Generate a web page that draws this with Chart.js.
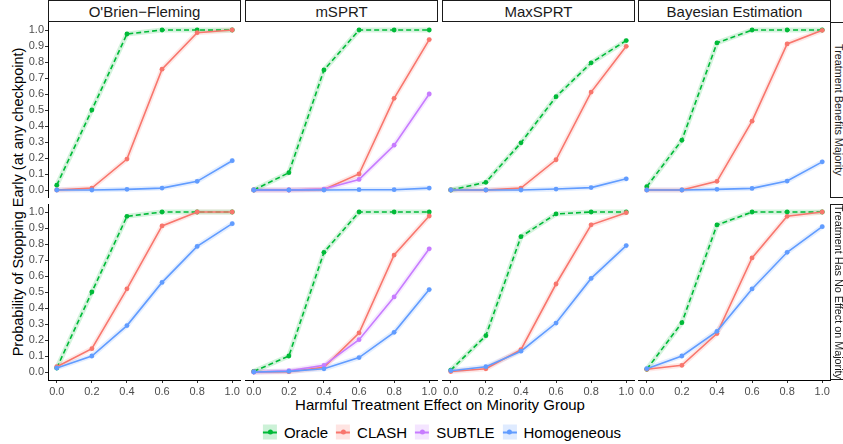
<!DOCTYPE html>
<html>
<head>
<meta charset="utf-8">
<script src="https://cdn.jsdelivr.net/npm/chart.js@4"></script>
<style>
html, body { margin: 0; padding: 0; background: #ffffff; }
body { width: 843px; height: 444px; position: relative; overflow: hidden; font-family: "Liberation Sans", Arial, sans-serif; color: #000; }
canvas { position: absolute; }
.strip { position: absolute; box-sizing: border-box; border: 1px solid #1a1a1a; background: #fff; color: #1a1a1a;
  display: flex; align-items: center; justify-content: center; font-size: 15px; white-space: nowrap; }
.rstrip { position: absolute; box-sizing: border-box; border: 1px solid #1a1a1a; background: #fff; color: #1a1a1a;
  display: flex; align-items: center; justify-content: center; font-size: 10.8px; white-space: nowrap; overflow: hidden; }
.rstrip span { writing-mode: vertical-rl; }
#ytitle { position: absolute; left: 18px; top: 202px; transform: translate(-50%, -50%) rotate(-90deg); font-size: 14.5px; white-space: nowrap; }
#xtitle { position: absolute; left: 440px; top: 404px; transform: translate(-50%, -50%); font-size: 15px; white-space: nowrap; }
#legend { position: absolute; left: 442px; top: 432px; transform: translate(-50%, -50%); display: flex; align-items: center; font-size: 15px; white-space: nowrap; }
.litem { display: flex; align-items: center; margin: 0 4px; }
.key { position: relative; width: 14px; height: 15px; margin-right: 7px; }
.kline { position: absolute; left: 0; right: 0; top: 7px; height: 1.6px; }
.kdot { position: absolute; left: 4.5px; top: 5px; width: 5px; height: 5px; border-radius: 50%; }
</style>
</head>
<body>
<div id="ytitle">Probability of Stopping Early (at any checkpoint)</div>
<div id="xtitle">Harmful Treatment Effect on Minority Group</div>
<div id="legend"></div>
<script>
// ---------- data ----------
const xValues = [0.0, 0.2, 0.4, 0.6, 0.8, 1.0];
const xTickValues = [0.0, 0.2, 0.4, 0.6, 0.8, 1.0];
const yTickValues = [0.0, 0.1, 0.2, 0.3, 0.4, 0.5, 0.6, 0.7, 0.8, 0.9, 1.0];
const methodNames = ["O'Brien\u2212Fleming", "mSPRT", "MaxSPRT", "Bayesian Estimation"];
const scenarioNames = ["Treatment Benefits Majority", "Treatment Has No Effect on Majority"];
const seriesNames = ["Oracle", "CLASH", "SUBTLE", "Homogeneous"];
const seriesColors = ["#00BA38", "#F8766D", "#C77CFF", "#619CFF"];

// one row per method (O'Brien-Fleming, mSPRT, MaxSPRT, Bayesian Estimation)
const oracleBenefit = [
  [0.03, 0.50, 0.975, 1.0, 1.0, 1.0],
  [0.0, 0.108, 0.75, 1.0, 1.0, 1.0],
  [0.0, 0.048, 0.295, 0.583, 0.795, 0.934],
  [0.021, 0.311, 0.919, 1.0, 1.0, 1.0]
];
const clashBenefit = [
  [0.0, 0.012, 0.193, 0.755, 0.983, 1.0],
  [0.0, 0.0, 0.004, 0.10, 0.573, 0.94],
  [0.0, 0.0, 0.012, 0.189, 0.612, 0.898],
  [0.0, 0.0, 0.054, 0.43, 0.913, 0.998]
];
const subtleBenefit = [
  null,
  [0.0, 0.0, 0.006, 0.066, 0.28, 0.60],
  null,
  null
];
const homogBenefit = [
  [0.0, 0.0, 0.004, 0.012, 0.054, 0.183],
  [0.0, 0.0, 0.0, 0.002, 0.002, 0.012],
  [0.0, 0.0, 0.0, 0.006, 0.015, 0.07],
  [0.0, 0.0, 0.004, 0.01, 0.056, 0.176]
];
const oracleNoEffect = [
  [0.025, 0.50, 0.973, 1.0, 1.0, 1.0],
  [0.004, 0.10, 0.748, 1.0, 1.0, 1.0],
  [0.012, 0.227, 0.846, 0.988, 1.0, 1.0],
  [0.017, 0.308, 0.919, 1.0, 1.0, 1.0]
];
const clashNoEffect = [
  [0.033, 0.146, 0.52, 0.913, 1.0, 1.0],
  [0.0, 0.002, 0.03, 0.244, 0.731, 0.975],
  [0.003, 0.02, 0.14, 0.55, 0.92, 0.996],
  [0.017, 0.042, 0.24, 0.713, 0.973, 1.0]
];
const subtleNoEffect = [
  null,
  [0.0, 0.008, 0.042, 0.202, 0.469, 0.77],
  null,
  null
];
const homogNoEffect = [
  [0.025, 0.10, 0.29, 0.56, 0.785, 0.927],
  [0.0, 0.004, 0.02, 0.09, 0.248, 0.515],
  [0.008, 0.033, 0.13, 0.306, 0.585, 0.79],
  [0.021, 0.10, 0.254, 0.519, 0.748, 0.908]
];

// ---------- layout ----------
const panelLefts = [48, 245, 442, 638];
const panelTops = [22, 204];
const panelW = 193, panelH = 176;
const yAxisW = 24, xAxisH = 22;

function rgba(hex, a) {
  const n = parseInt(hex.slice(1), 16);
  return `rgba(${(n >> 16) & 255},${(n >> 8) & 255},${n & 255},${a})`;
}

const rowSeries = [
  [oracleBenefit, clashBenefit, subtleBenefit, homogBenefit],
  [oracleNoEffect, clashNoEffect, subtleNoEffect, homogNoEffect]
];

function makePanel(r, c) {
  const showY = c === 0, showX = r === 1;
  const left = panelLefts[c] - (showY ? yAxisW : 0);
  const top = panelTops[r];
  const w = panelW + (showY ? yAxisW : 0);
  const h = panelH + (showX ? xAxisH : 0);
  const canvas = document.createElement('canvas');
  canvas.width = w; canvas.height = h;
  canvas.style.left = left + 'px'; canvas.style.top = top + 'px';
  canvas.style.width = w + 'px'; canvas.style.height = h + 'px';
  document.body.appendChild(canvas);

  const datasets = [];
  rowSeries[r].forEach((arr, k) => {
    const vals = arr[c];
    if (!vals) return;
    const pts = xValues.map((x, i) => ({ x: x, y: vals[i] }));
    const col = seriesColors[k];
    datasets.push({
      label: seriesNames[k] + ' band', data: pts, borderColor: rgba(col, 0.17), borderWidth: 5,
      pointRadius: 0, tension: 0, order: 100 + k, borderCapStyle: 'round', borderJoinStyle: 'round'
    });
    datasets.push({
      label: seriesNames[k], data: pts, borderColor: col, backgroundColor: col, borderWidth: 1.6,
      borderDash: k === 0 ? [5, 3] : [], pointRadius: 2.4, pointBackgroundColor: col,
      pointBorderWidth: 0, tension: 0, order: 10 - k
    });
  });

  const tickFont = { size: 11, family: "'Liberation Sans', Arial, sans-serif" };
  new Chart(canvas, {
    type: 'line',
    data: { datasets },
    options: {
      responsive: false, animation: false, devicePixelRatio: 1,
      layout: { padding: 0, autoPadding: false },
      plugins: { legend: { display: false }, tooltip: { enabled: false } },
      events: [],
      scales: {
        x: {
          type: 'linear', min: -0.05, max: 1.05, display: showX,
          afterBuildTicks: s => { s.ticks = xTickValues.map(v => ({ value: v })); },
          afterFit: s => { s.height = showX ? xAxisH : 0; s.paddingLeft = 0; s.paddingRight = 0; },
          grid: { display: true, drawOnChartArea: false, drawTicks: true, tickLength: 3, color: '#333333' },
          border: { display: true, color: '#000000', width: 1 },
          ticks: { color: '#4D4D4D', font: tickFont, padding: 2, maxRotation: 0, autoSkip: false,
                   callback: v => Number(v).toFixed(1) }
        },
        y: {
          type: 'linear', min: -0.05, max: 1.05, display: showY,
          afterBuildTicks: s => { s.ticks = yTickValues.map(v => ({ value: v })); },
          afterFit: s => { s.width = showY ? yAxisW : 0; s.paddingTop = 0; s.paddingBottom = 0; },
          grid: { display: true, drawOnChartArea: false, drawTicks: true, tickLength: 3, color: '#333333' },
          border: { display: true, color: '#000000', width: 1 },
          ticks: { color: '#4D4D4D', font: tickFont, padding: 1, autoSkip: false,
                   callback: v => Number(v).toFixed(1) }
        }
      }
    }
  });
}

for (let r = 0; r < 2; r++) for (let c = 0; c < 4; c++) makePanel(r, c);

// strips
methodNames.forEach((name, c) => {
  const d = document.createElement('div');
  d.className = 'strip';
  d.style.left = panelLefts[c] + 'px'; d.style.top = '0px';
  d.style.width = panelW + 'px'; d.style.height = '22px';
  d.textContent = name;
  document.body.appendChild(d);
});
scenarioNames.forEach((name, r) => {
  const d = document.createElement('div');
  d.className = 'rstrip';
  d.style.left = '830px'; d.style.top = panelTops[r] + 'px';
  d.style.width = '17px'; d.style.height = panelH + 'px';
  const s = document.createElement('span');
  s.textContent = name;
  d.appendChild(s);
  document.body.appendChild(d);
});

// legend
const legend = document.getElementById('legend');
seriesNames.forEach((name, k) => {
  const col = seriesColors[k];
  const item = document.createElement('div');
  item.className = 'litem';
  item.innerHTML = `<div class="key" style="background:${rgba(col, 0.2)}"><div class="kline" style="background:${col}"></div><div class="kdot" style="background:${col}"></div></div><span>${name}</span>`;
  legend.appendChild(item);
});
</script>
</body>
</html>
